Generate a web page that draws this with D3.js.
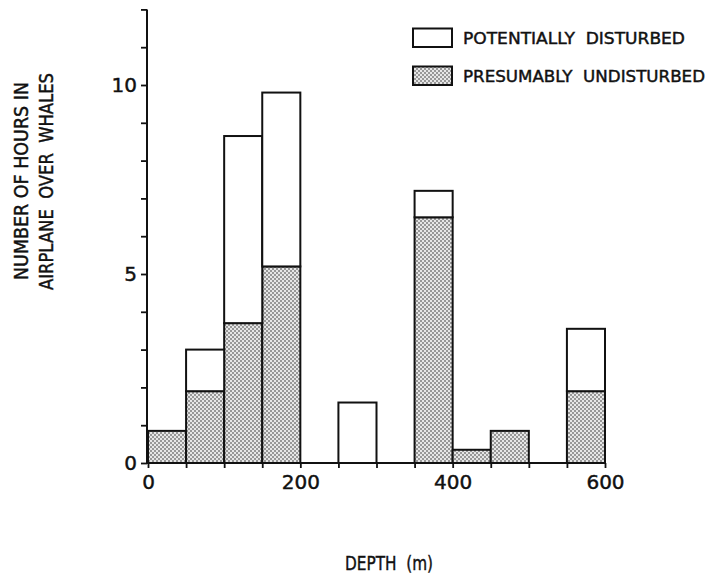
<!DOCTYPE html>
<html>
<head>
<meta charset="utf-8">
<script src="https://cdn.jsdelivr.net/npm/d3@7"></script>
<style>
  html, body { margin: 0; padding: 0; background: #fff; }
  svg { display: block; }
  text { font-family: "DejaVu Sans", sans-serif; fill: #111; stroke: #111; stroke-width: 0.45px; }
</style>
</head>
<body>
<svg id="chart" width="710" height="574"></svg>
<script>
// ---- data ----
const binStarts = [0, 50, 100, 150, 200, 250, 300, 350, 400, 450, 500, 550];
const binWidth = 50;
const undisturbed = [0.85, 1.9, 3.7, 5.2, 0, 0, 0, 6.5, 0.35, 0.85, 0, 1.9];
const disturbed   = [0, 1.1, 4.95, 4.6, 0, 1.6, 0, 0.7, 0, 0, 0, 1.65];
const xTickLabels = [0, 200, 400, 600];
const yTickLabels = [0, 5, 10];
const seriesNames = ["PRESUMABLY UNDISTURBED", "POTENTIALLY DISTURBED"];

const svg = d3.select("#chart");

// stipple pattern
const defs = svg.append("defs");
const pat = defs.append("pattern").attr("id", "stipple")
  .attr("patternUnits", "userSpaceOnUse").attr("width", 4).attr("height", 4);
pat.append("rect").attr("width", 4).attr("height", 4).attr("fill", "#e6e6e6");
pat.append("circle").attr("cx", 1).attr("cy", 1).attr("r", 0.8).attr("fill", "#333");
pat.append("circle").attr("cx", 3).attr("cy", 3).attr("r", 0.8).attr("fill", "#333");

const x = d3.scaleLinear().domain([0, 600]).range([148, 605]);
const y = d3.scaleLinear().domain([0, 12]).range([463, 9.4]);

const rows = binStarts.map((s, i) => ({ start: s, undisturbed: undisturbed[i], disturbed: disturbed[i] }));
const stack = d3.stack().keys(["undisturbed", "disturbed"])(rows);
const fills = { undisturbed: "url(#stipple)", disturbed: "#fff" };

stack.forEach(layer => {
  svg.append("g").selectAll("rect")
    .data(layer.filter(d => d[1] - d[0] > 0))
    .join("rect")
    .attr("x", d => x(d.data.start))
    .attr("width", d => x(d.data.start + binWidth) - x(d.data.start))
    .attr("y", d => y(d[1]))
    .attr("height", d => y(d[0]) - y(d[1]))
    .attr("fill", fills[layer.key])
    .attr("stroke", "#111")
    .attr("stroke-width", 2);
});

// x axis
const xAxis = d3.axisBottom(x)
  .tickValues(d3.range(0, 601, 50))
  .tickSize(5)
  .tickFormat(d => xTickLabels.includes(d) ? d : "");
const gx = svg.append("g").attr("transform", `translate(0,${y(0)})`).call(xAxis);
gx.select(".domain").attr("d", `M${x(0)},0H${x(600)}`).attr("stroke-width", 2).attr("stroke", "#111");
gx.selectAll(".tick line").attr("stroke-width", 1.8).attr("stroke", "#111");
gx.selectAll(".tick text").attr("font-size", 20).attr("font-family", "DejaVu Sans")
  .attr("fill", "#111").attr("dy", "0.95em").attr("y", 7);

// y axis
const yAxis = d3.axisLeft(y)
  .tickValues(d3.range(0, 13, 1))
  .tickSize(6)
  .tickFormat(d => yTickLabels.includes(d) ? d : "");
const gy = svg.append("g").attr("transform", `translate(${x(0) - 1},0)`).call(yAxis);
gy.select(".domain").attr("d", `M0,${y(0)}V${y(12)}`).attr("stroke-width", 2).attr("stroke", "#111");
gy.selectAll(".tick line").attr("stroke-width", 1.8).attr("stroke", "#111");
gy.selectAll(".tick text").attr("font-size", 20).attr("font-family", "DejaVu Sans")
  .attr("fill", "#111").attr("x", -10);

// legend
const legend = svg.append("g");
const legendItems = [
  { name: seriesNames[1], fill: "#fff", y: 28.5, textLen: 222 },
  { name: seriesNames[0], fill: "url(#stipple)", y: 66.5, textLen: 242 }
];
legendItems.forEach(it => {
  legend.append("rect").attr("x", 413).attr("y", it.y).attr("width", 39).attr("height", 18.5)
    .attr("fill", it.fill).attr("stroke", "#111").attr("stroke-width", 2);
  legend.append("text").attr("x", 463).attr("y", it.y + 15.5)
    .attr("font-size", 16).attr("textLength", it.textLen).attr("lengthAdjust", "spacingAndGlyphs")
    .text(it.name.replace(" ", "\u00a0\u00a0"));
});

// y label (two lines)
svg.append("text")
  .attr("transform", "translate(28,181) rotate(-90)")
  .attr("text-anchor", "middle").attr("font-size", 19)
  .attr("textLength", 198).attr("lengthAdjust", "spacingAndGlyphs")
  .text("NUMBER OF HOURS IN");
svg.append("text")
  .attr("transform", "translate(53,181.5) rotate(-90)")
  .attr("text-anchor", "middle").attr("font-size", 19)
  .attr("textLength", 217).attr("lengthAdjust", "spacingAndGlyphs")
  .text("AIRPLANE\u00a0\u00a0OVER\u00a0\u00a0WHALES");

// x label
svg.append("text")
  .attr("x", 345).attr("y", 570)
  .attr("font-size", 20).attr("textLength", 88).attr("lengthAdjust", "spacingAndGlyphs")
  .text("DEPTH\u00a0\u00a0(m)");
</script>
</body>
</html>
